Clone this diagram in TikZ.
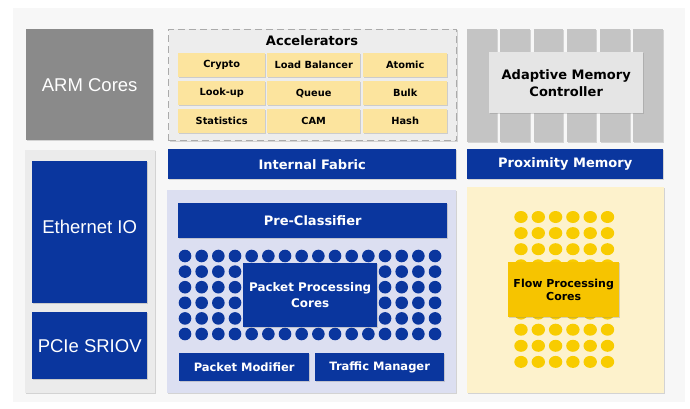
\documentclass[tikz,border=0pt]{standalone}
\usepackage{fontspec}
\setmainfont{DejaVu Sans}
\newfontfamily\arialfont{Liberation Sans}
\usetikzlibrary{shadows}
\definecolor{chipblue}{RGB}{10,54,158}
\definecolor{cellyellow}{RGB}{252,228,158}
\definecolor{dotyellow}{RGB}{248,204,0}
\definecolor{flowyellow}{RGB}{246,196,0}
\definecolor{flowpanel}{RGB}{253,242,204}
\definecolor{lavender}{RGB}{220,223,241}
\begin{document}
\begin{tikzpicture}[x=1pt,y=-1pt,
    box/.style={rectangle,inner sep=0pt,align=center,anchor=north west,
      drop shadow={shadow xshift=1pt,shadow yshift=-1pt,opacity=0.3}},
    bluebox/.style={box,fill=chipblue,text=white,font=\bfseries\fontsize{13}{17}\selectfont},
    iobox/.style={box,fill=chipblue,text=white,font=\arialfont\fontsize{18.5}{22}\selectfont},
    cell/.style={box,fill=cellyellow,text=black,minimum height=24pt,
      font=\bfseries\fontsize{9.8}{11}\selectfont},
    stripe/.style={box,fill=black!23,minimum width=29.5pt,minimum height=113pt}]
  \useasboundingbox[fill=white] (0,0) rectangle (690,409);
  \fill[black!3] (13,8) rectangle (685,402);

  % left column
  \node[box,fill=black!46,text=white,minimum width=127pt,minimum height=111pt,
    font=\arialfont\fontsize{18.5}{22}\selectfont] (arm) at (26,29) {ARM Cores};
  \node[box,fill=black!8,minimum width=130pt,minimum height=243pt] (iopanel) at (25,150) {};
  \node[iobox,minimum width=115pt,minimum height=142pt] (eth) at (32,161) {\raisebox{10pt}{Ethernet IO}};
  \node[iobox,minimum width=115pt,minimum height=67pt] (pcie) at (32,312) {PCIe SRIOV};

  % accelerators
  \node[box,fill=black!7,draw=black!33,line width=1pt,dash pattern=on 7pt off 4pt,
    minimum width=288pt,minimum height=111pt,drop shadow={opacity=0}] (accel) at (168,29) {};
  \node[font=\bfseries\fontsize{13}{15}\selectfont] (acceltitle) at (312,41) {Accelerators};
  \node[cell,minimum width=87pt] (crypto) at (178,53) {Crypto};
  \node[cell,minimum width=93pt] (lb) at (267,53) {Load Balancer};
  \node[cell,minimum width=84pt] (atomic) at (363,53) {Atomic};
  \node[cell,minimum width=87pt] (lookup) at (178,81) {Look-up};
  \node[cell,minimum width=93pt] (queue) at (267,81) {Queue};
  \node[cell,minimum width=84pt] (bulk) at (363,81) {Bulk};
  \node[cell,minimum width=87pt] (stats) at (178,109) {Statistics};
  \node[cell,minimum width=93pt] (cam) at (267,109) {CAM};
  \node[cell,minimum width=84pt] (hash) at (363,109) {Hash};
  \node[bluebox,minimum width=288pt,minimum height=30pt] (fabric) at (168,149) {Internal Fabric};

  % memory
  \foreach \k in {0,...,5}
    \node[stripe] (stripe\k) at (467+33.2*\k,29) {};
  \node[box,fill=black!10,minimum width=154pt,minimum height=61pt,
    font=\bfseries\fontsize{13}{17}\selectfont] (amc) at (489,52) {Adaptive Memory\\Controller};
  \node[bluebox,minimum width=196pt,minimum height=30pt] (prox) at (467,149) {Proximity Memory};

  % packet processing
  \node[box,fill=lavender,minimum width=289pt,minimum height=203pt] (pktpanel) at (167,190) {};
  \node[bluebox,minimum width=269pt,minimum height=35pt] (precls) at (178,203) {Pre-Classifier};
  \foreach \i in {0,...,15}
    \foreach \j in {0,...,5}
      \fill[chipblue] (185+16.67*\i,256+15.6*\j) circle (6.3);
  \node[bluebox,minimum width=134pt,minimum height=64pt,drop shadow={opacity=0},
    font=\bfseries\fontsize{11.9}{15.5}\selectfont] (ppc) at (243,263) {Packet Processing\\Cores};
  \node[bluebox,minimum width=130pt,minimum height=28pt,
    font=\bfseries\fontsize{11.5}{14}\selectfont] (modifier) at (179,353) {Packet Modifier};
  \node[bluebox,minimum width=129pt,minimum height=28pt,
    font=\bfseries\fontsize{11.5}{14}\selectfont] (traffic) at (315,353) {Traffic Manager};

  % flow processing
  \node[box,fill=flowpanel,minimum width=197pt,minimum height=206pt] (flowpanel) at (467,187) {};
  \foreach \i in {0,...,5}
    \foreach \j in {0,...,9}
      \fill[dotyellow] (521+17.3*\i,217+16.1*\j) ellipse (6.7 and 6);
  \node[box,fill=flowyellow,minimum width=111pt,minimum height=55pt,drop shadow={opacity=0},
    font=\bfseries\fontsize{11}{13.5}\selectfont] (fpc) at (508,262) {Flow Processing\\Cores};
\end{tikzpicture}
\end{document}
